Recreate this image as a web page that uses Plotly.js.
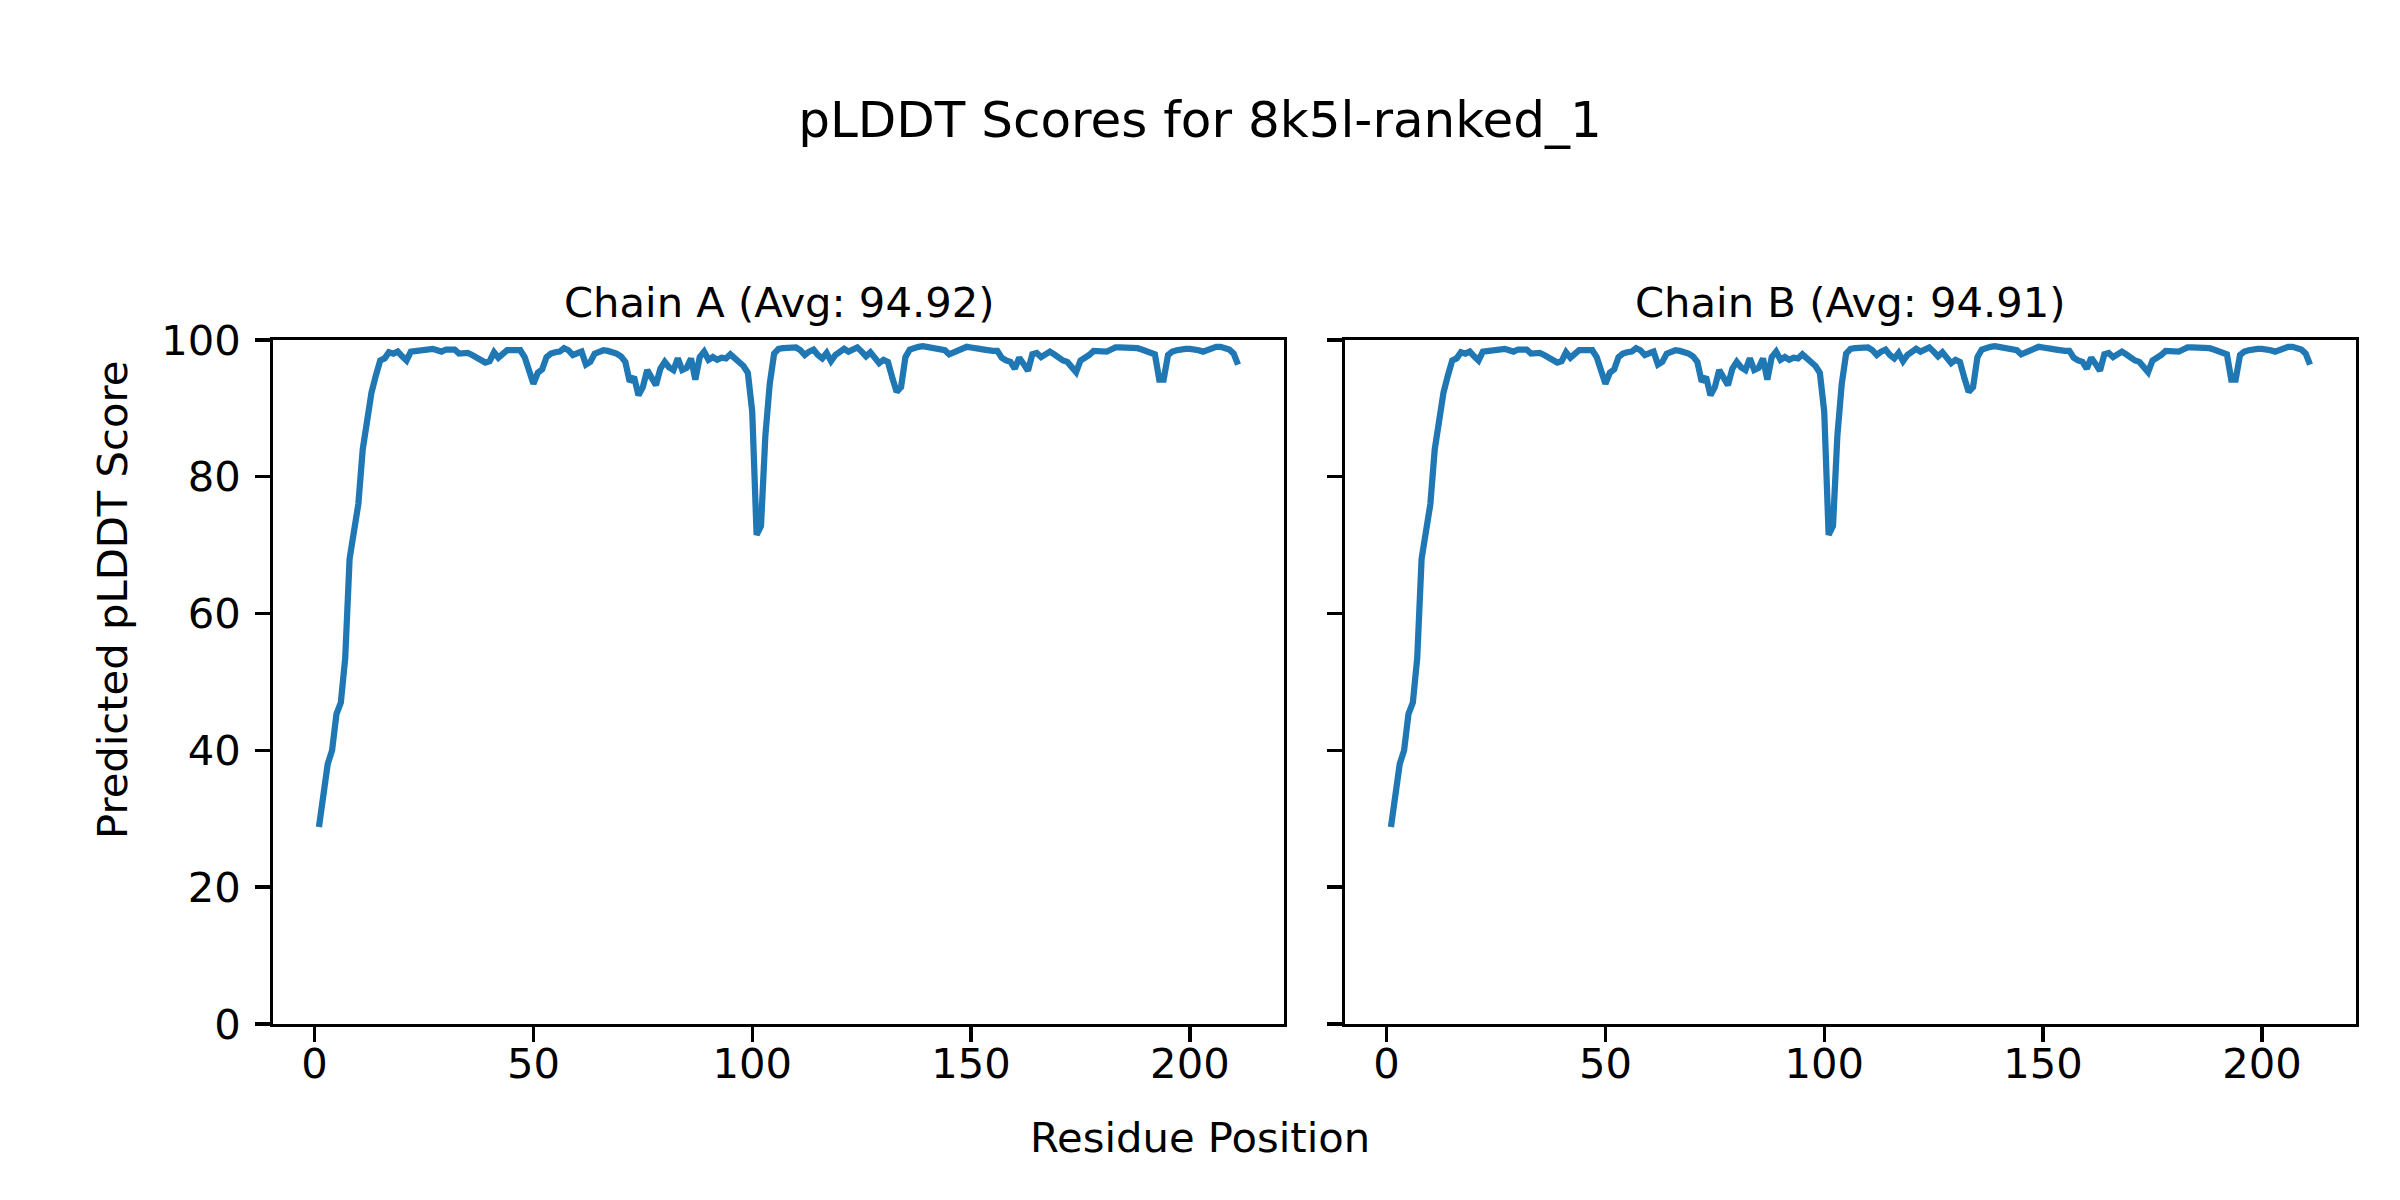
<!DOCTYPE html>
<html>
<head>
<meta charset="utf-8">
<script src="https://cdn.plot.ly/plotly-3.0.1.min.js"></script>
<style>html,body{margin:0;padding:0;background:#fff;}#chart{width:2400px;height:1200px;}</style>
</head>
<body>
<div id="chart"></div>
<script>
// pLDDT per residue, chain A (residues 1..211)
const chainA = [
  28.8, 34.0, 38.0, 40.0, 45.3, 47.0, 53.5, 68.0, 72.0, 76.0,
  84.0, 88.5, 92.3, 94.8, 97.0, 97.3, 98.2, 98.0, 98.3, 97.6,
  97.0, 98.3, 98.4, 98.4, 98.6, 98.8, 98.7, 98.5, 98.3, 98.6,
  98.7, 98.6, 98.0, 98.1, 98.1, 97.8, 97.5, 97.2, 96.7, 96.9,
  98.2, 97.4, 98.0, 98.5, 98.5, 98.5, 98.5, 97.5, 95.2, 93.6,
  95.2, 95.7, 97.5, 98.0, 98.2, 98.3, 98.8, 98.5, 97.8, 98.1,
  98.3, 96.4, 96.8, 98.0, 98.2, 98.5, 98.4, 98.3, 98.0, 97.6,
  96.8, 93.9, 94.6, 91.9, 93.1, 95.6, 94.5, 93.4, 95.8, 96.8,
  96.0, 95.6, 97.3, 95.6, 95.9, 97.3, 94.2, 97.5, 98.3, 97.1,
  97.5, 97.1, 97.4, 97.3, 97.9, 97.4, 96.8, 96.2, 95.2, 89.5,
  71.5, 72.8, 86.0, 93.6, 98.0, 98.7, 98.8, 98.9, 99.0, 98.9,
  98.5, 97.8, 98.3, 98.6, 97.8, 97.3, 98.1, 96.9, 97.8, 98.4,
  98.7, 98.3, 98.6, 98.9, 98.3, 97.6, 98.2, 97.5, 96.6, 97.1,
  96.8, 94.5, 92.4, 93.1, 97.5, 98.6, 98.9, 99.0, 99.1, 99.0,
  98.8, 98.7, 98.6, 98.5, 97.9, 98.2, 98.4, 98.7, 99.0, 98.9,
  98.9, 98.7, 98.6, 98.4, 98.4, 98.4, 97.4, 97.0, 96.8, 95.8,
  97.4, 96.5, 95.5, 97.9, 98.1, 97.5, 97.9, 98.3, 97.9, 97.4,
  97.0, 96.8, 96.2, 95.3, 97.0, 97.3, 97.8, 98.4, 98.4, 98.3,
  98.3, 98.6, 98.9, 98.9, 98.9, 99.0, 99.0, 98.8, 98.6, 98.4,
  98.1, 97.9, 94.2, 94.2, 97.8, 98.3, 98.5, 98.7, 98.7, 98.7,
  98.7, 98.5, 98.3, 98.6, 98.9, 99.0, 99.0, 98.8, 98.6, 98.0,
  96.4
];
// pLDDT per residue, chain B (visually identical to chain A)
const chainB = chainA.slice();

const chainNames = ["Chain A", "Chain B"];
const chainAvgs = ["94.92", "94.91"];
const xTicks = [0, 50, 100, 150, 200];
const yTicks = [0, 20, 40, 60, 80, 100];
const mainTitle = "pLDDT Scores for 8k5l-ranked_1";
const xLabel = "Residue Position";
const yLabel = "Predicted pLDDT Score";

const residues = chainA.map((_, i) => i + 1);
const xmin = residues[0], xmax = residues[residues.length - 1];
const pad = 0.05 * (xmax - xmin);
const xRange = [xmin - pad, xmax + pad];

const FONT = "DejaVu Sans, Liberation Sans, sans-serif";
const lineColor = "#1f77b4";
const spineW = 3.33;

const traces = [
  {x: residues, y: chainA, type: "scatter", mode: "lines", xaxis: "x", yaxis: "y",
   line: {color: lineColor, width: 6.25}, showlegend: false, hoverinfo: "skip"},
  {x: residues, y: chainB, type: "scatter", mode: "lines", xaxis: "x2", yaxis: "y2",
   line: {color: lineColor, width: 6.25}, showlegend: false, hoverinfo: "skip"}
];

function xAxis(domain, anchor) {
  return {
    domain: domain, anchor: anchor, range: xRange, tickmode: "array", tickvals: xTicks,
    ticktext: xTicks.map(String), ticks: "outside", ticklen: 14.6, tickwidth: spineW,
    tickcolor: "#000", showline: true, linecolor: "#000", linewidth: spineW, mirror: true,
    showgrid: false, zeroline: false, tickfont: {family: FONT, size: 41.7, color: "#000"},
    ticklabelstandoff: -14
  };
}
function yAxis(anchor, showLabels) {
  return {
    domain: [0.1467, 0.7167], anchor: anchor, range: [0, 100], tickmode: "array",
    tickvals: yTicks, ticktext: yTicks.map(String), ticks: "outside", ticklen: 14.6,
    tickwidth: spineW, tickcolor: "#000", showline: true, linecolor: "#000",
    linewidth: spineW, mirror: true, showgrid: false, zeroline: false,
    showticklabels: showLabels, tickfont: {family: FONT, size: 41.7, color: "#000"},
    ticklabelstandoff: 6
  };
}

const layout = {
  width: 2400, height: 1200,
  margin: {l: 0, r: 0, t: 0, b: 0},
  paper_bgcolor: "#fff", plot_bgcolor: "#fff",
  title: {text: mainTitle, x: 0.5, xanchor: "center", y: 1 - 119 / 1200, yanchor: "middle",
          yref: "container", xref: "paper", font: {family: FONT, size: 50, color: "#000"}},
  xaxis: xAxis([0.11375, 0.535], "y"),
  yaxis: yAxis("x", true),
  xaxis2: xAxis([0.56042, 0.98167], "y2"),
  yaxis2: yAxis("x2", false),
  annotations: [
    {text: chainNames[0] + " (Avg: " + chainAvgs[0] + ")", xref: "paper", yref: "paper",
     x: (0.11375 + 0.535) / 2, y: 1 - 302 / 1200, xanchor: "center", yanchor: "middle",
     showarrow: false, font: {family: FONT, size: 41.7, color: "#000"}},
    {text: chainNames[1] + " (Avg: " + chainAvgs[1] + ")", xref: "paper", yref: "paper",
     x: (0.56042 + 0.98167) / 2, y: 1 - 302 / 1200, xanchor: "center", yanchor: "middle",
     showarrow: false, font: {family: FONT, size: 41.7, color: "#000"}},
    {text: xLabel, xref: "paper", yref: "paper", x: 0.5, y: 1 - 1137 / 1200,
     xanchor: "center", yanchor: "middle", showarrow: false,
     font: {family: FONT, size: 41.7, color: "#000"}},
    {text: yLabel, xref: "paper", yref: "paper", x: 112 / 2400, y: 0.5, textangle: -90,
     xanchor: "center", yanchor: "middle", showarrow: false,
     font: {family: FONT, size: 41.7, color: "#000"}}
  ]
};

Plotly.newPlot("chart", traces, layout, {staticPlot: true, displayModeBar: false});
</script>
</body>
</html>
